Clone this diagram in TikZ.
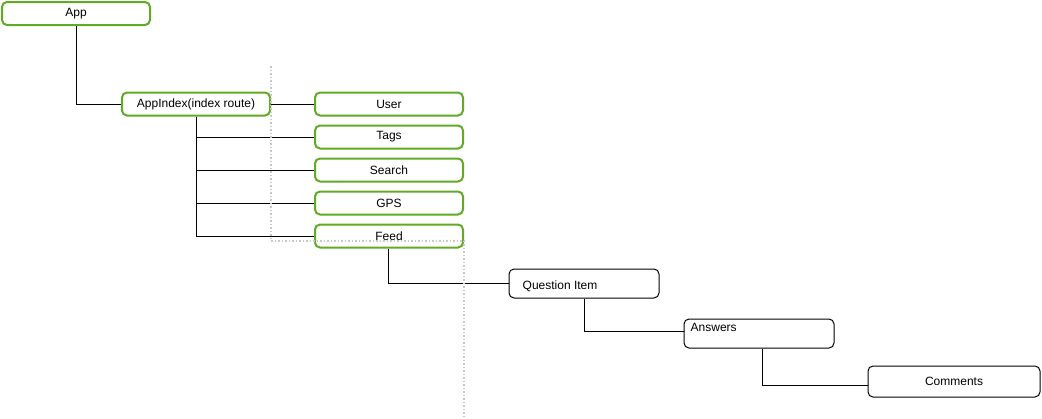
\documentclass[tikz,border=0pt]{standalone}
\usepackage{fontspec}
\setmainfont{Liberation Sans}
\usepackage{xcolor}
\definecolor{boxgreen}{RGB}{96,170,36}
\definecolor{guidegray}{RGB}{200,200,200}
\usetikzlibrary{calc}

\begin{document}
\begin{tikzpicture}[x=1pt, y=-1pt,
  greenbox/.style={draw=boxgreen, line width=2pt, rounded corners=5pt, fill=white,
    minimum width=148pt, minimum height=23pt, inner sep=0pt, font=\fontsize{12}{14}\selectfont},
  plainbox/.style={draw=black, line width=1pt, rounded corners=5pt, fill=white,
    inner sep=0pt, font=\fontsize{12}{14}\selectfont},
  boxtext/.style={inner sep=0pt, font=\fontsize{12}{14}\selectfont},
  treeline/.style={draw=black, line width=1pt},
  guide/.style={draw=guidegray, line width=1.5pt, dotted}]
  \useasboundingbox (0,0) rectangle (1042,418);

  % Root
  \node[greenbox] (app) at (76,13.5) {App};

  % Index route and its children
  \node[greenbox] (index) at (196,104) {AppIndex(index route)};
  \node[greenbox] (user) at (389,104) {User};
  \node[greenbox] (tags) at (389,137) {Tags};
  \node[greenbox] (search) at (389,170) {Search};
  \node[greenbox] (gps) at (389,203) {GPS};
  \node[greenbox] (feed) at (389,236) {Feed};

  % Feed items
  \node[plainbox, minimum width=150pt, minimum height=29pt] (question) at (584,283.5) {};
  \node[boxtext, anchor=west] at ([xshift=14pt, yshift=-3pt]question.west) {Question Item};
  \node[plainbox, minimum width=150pt, minimum height=29pt] (answers) at (759,333.5) {};
  \node[boxtext, anchor=west] at ([xshift=7pt, yshift=6pt]answers.west) {Answers};
  \node[plainbox, minimum width=172pt, minimum height=31pt] (comments) at (954,381.5) {Comments};

  % Connectors
  \draw[treeline] (app.south) |- (index.west);
  \draw[treeline] (index.east) -- (user.west);
  \foreach \child in {tags, search, gps, feed}
    \draw[treeline] (index.south) |- (\child.west);
  \draw[treeline] ([xshift=-1pt]feed.south) |- (question.west);
  \draw[treeline] (question.south) |- ([yshift=2.5pt]answers.west);
  \draw[treeline] ([xshift=3pt]answers.south) |- ([yshift=-3.5pt]comments.west);

  % Dotted guide
  \draw[guide] (271,66) -- (271,241) -- (464,241) -- (464,418);
\end{tikzpicture}
\end{document}
